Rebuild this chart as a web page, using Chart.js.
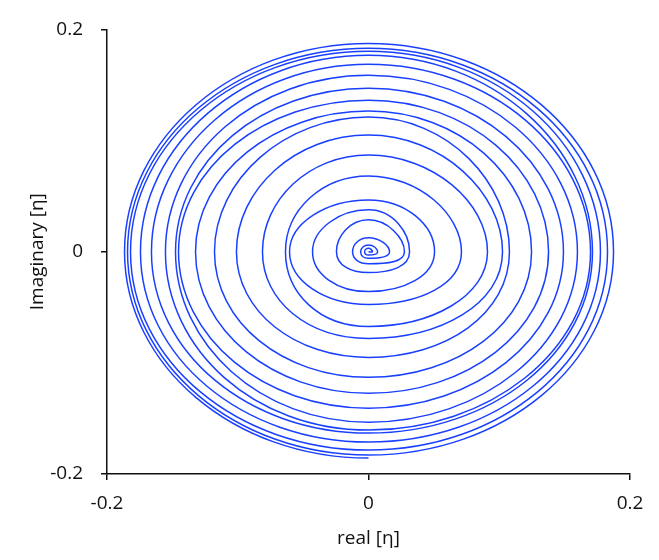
<!DOCTYPE html>
<html>
<head>
<meta charset="utf-8">
<script src="https://cdn.jsdelivr.net/npm/chart.js@4"></script>
<style>
  html, body { margin: 0; padding: 0; background: #fff; }
  #wrap { width: 659px; height: 560px; }
</style>
</head>
<body>
<div id="wrap"><canvas id="myChart"></canvas></div>
<script>
// spiral points (axis crossings, inner turn first)
const realPart = [
    0, 0.003, 0, -0.003, 0, 0.007, 0, -0.006, 0,
    0.0161, 0, -0.0122, 0,
    0.0275, 0, -0.0245, 0,
    0.0314, 0, -0.0428, 0,
    0.0505, 0, -0.0604, 0,
    0.0711, 0, -0.0635, 0,
    0.0910, 0, -0.0811, 0,
    0.1025, 0, -0.1010, 0,
    0.1078, 0, -0.1178, 0,
    0.1247, 0, -0.1323, 0,
    0.1377, 0, -0.1453, 0,
    0.1491, 0, -0.1476, 0,
    0.1598, 0, -0.1553, 0,
    0.1698, 0, -0.1660, 0,
    0.1713, 0, -0.1744, 0,
    0.1774, 0, -0.1820, 0,
    0.1828, 0, -0.1843, 0,
    0.1874, 0, -0.1866, 0,
    0.1880
];
const imagPart = [
    0, 0, 0.003, 0, -0.003, 0, 0.006, 0, -0.006,
    0, 0.0126, 0, -0.0108,
    0, 0.0287, 0, -0.0188,
    0, 0.0377, 0, -0.0359,
    0, 0.0466, 0, -0.0475,
    0, 0.0682, 0, -0.0673,
    0, 0.0870, 0, -0.0780,
    0, 0.1049, 0, -0.0951,
    0, 0.1211, 0, -0.1130,
    0, 0.1265, 0, -0.1274,
    0, 0.1363, 0, -0.1408,
    0, 0.1471, 0, -0.1534,
    0, 0.1587, 0, -0.1605,
    0, 0.1686, 0, -0.1632,
    0, 0.1767, 0, -0.1713,
    0, 0.1803, 0, -0.1785,
    0, 0.1830, 0, -0.1830,
    0, 0.1874, 0, -0.1857,
    0
];
const xTicks = [-0.2, 0, 0.2];
const yTicks = [-0.2, 0, 0.2];

const points = realPart.map((x, i) => ({ x: x, y: imagPart[i] }));
const lastIdx = points.length - 1;

const font = { family: 'Open Sans', size: 19 };
const ink = '#111';
const blue = 'rgb(26, 64, 255)';

const config = {
    type: 'scatter',
    data: {
        datasets: [{
            data: points,
            showLine: true,
            borderColor: blue,
            borderWidth: 1.5,
            pointRadius: 0,
            tension: 0.55,
            fill: false,
            // last point only steers the curve, its segment is not drawn
            segment: {
                borderColor: ctx => ctx.p1DataIndex === lastIdx ? 'rgba(0,0,0,0)' : blue
            }
        }]
    },
    options: {
        responsive: false,
        animation: false,
        events: [],
        layout: { padding: { left: 0, right: 29, top: 28, bottom: 0 } },
        plugins: {
            legend: { display: false },
            tooltip: { enabled: false }
        },
        scales: {
            x: {
                type: 'linear',
                min: -0.2,
                max: 0.2,
                afterBuildTicks: s => { s.ticks = xTicks.map(v => ({ value: v })); },
                afterFit: s => { s.height = 86; },
                grid: { drawOnChartArea: false, tickLength: 6, color: ink, lineWidth: 1.5 },
                border: { color: ink, width: 1.5 },
                ticks: { font: font, color: ink, padding: 12, maxRotation: 0, callback: v => String(v) },
                title: { display: true, text: 'real [η]', font: font, color: ink, padding: { top: 0, bottom: 10 } }
            },
            y: {
                type: 'linear',
                min: -0.2,
                max: 0.2,
                afterBuildTicks: s => { s.ticks = yTicks.map(v => ({ value: v })); },
                afterFit: s => { s.width = 107; },
                grid: { drawOnChartArea: false, tickLength: 6, color: ink, lineWidth: 1.5 },
                border: { color: ink, width: 1.5 },
                ticks: { font: font, color: ink, padding: 18, callback: v => String(v) },
                title: { display: true, text: 'Imaginary [η]', font: font, color: ink, padding: { top: 26, bottom: 0 } }
            }
        }
    }
};

const canvas = document.getElementById('myChart');
canvas.width = 659;
canvas.height = 560;
var myChart = new Chart(canvas, config);
</script>
</body>
</html>
